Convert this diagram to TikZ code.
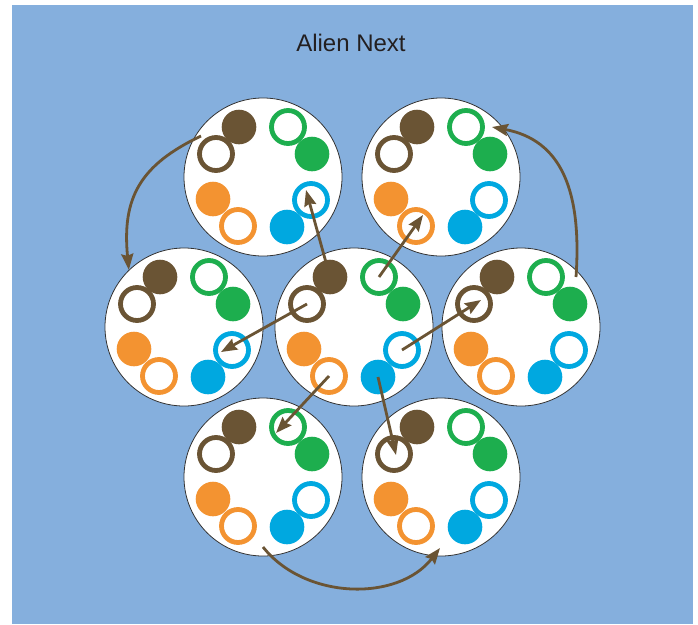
\documentclass[tikz,border=0pt]{standalone}
\usepackage{fontspec}
\setmainfont{Liberation Sans}
\usetikzlibrary{arrows.meta}
\definecolor{bg}{RGB}{133,175,221}
\definecolor{cbrown}{RGB}{106,84,52}
\definecolor{cgreen}{RGB}{29,174,78}
\definecolor{cblue}{RGB}{0,168,224}
\definecolor{corange}{RGB}{243,147,49}
\definecolor{ctext}{RGB}{35,31,32}
\newcommand\plate[3]{%
  \node[plate] (#1) at (#2,#3) {};
  \node[dot=cbrown]  (#1-bf) at ([shift={(-24,-50)}]#1.center) {};
  \node[ring=cbrown] (#1-br) at ([shift={(-47,-23)}]#1.center) {};
  \node[ring=cgreen] (#1-gr) at ([shift={(25,-50)}]#1.center) {};
  \node[dot=cgreen]  (#1-gf) at ([shift={(49,-23)}]#1.center) {};
  \node[ring=cblue]  (#1-ur) at ([shift={(48,23)}]#1.center) {};
  \node[dot=cblue]   (#1-uf) at ([shift={(24,50)}]#1.center) {};
  \node[dot=corange] (#1-of) at ([shift={(-50,22)}]#1.center) {};
  \node[ring=corange](#1-or) at ([shift={(-25,49)}]#1.center) {};
}
\begin{document}
\begin{tikzpicture}[x=1pt,y=-1pt,
  plate/.style={circle,draw=black!80,line width=0.8pt,fill=white,minimum size=158pt,inner sep=0pt},
  dot/.style={circle,fill=#1,minimum size=34.6pt,inner sep=0pt},
  ring/.style={circle,draw=#1,line width=4.8pt,minimum size=33pt,inner sep=0pt},
  conn/.style={draw=cbrown,line width=2.8pt,-{Stealth[length=16pt,width=12pt,inset=2pt]}}]
\useasboundingbox (0,0) rectangle (698,624);
\fill[bg] (12,5) rectangle (693,624);
\node[anchor=base,text=ctext,font=\fontsize{24}{28}\selectfont] (title) at (351,51.7) {Alien Next};
\plate{c}{354}{327}
\plate{l}{184}{327}
\plate{r}{521}{327}
\plate{tl}{263}{177}
\plate{tr}{441}{177}
\plate{bl}{263}{477}
\plate{br}{441}{477}
% curved connectors
\draw[conn] ([shift={(-15,-18)}]tl-br.center) .. controls +(-61,29) and +(-7,-72) .. (l.134);
\draw[conn] ([shift={(55,-50)}]r.center) .. controls +(6,-87) and +(69,13) .. ([shift={(26,0)}]tr-gr.center);
\draw[conn] ([shift={(0,70)}]bl.center) .. controls +(42,53) and +(-42,54) .. ([shift={(-1,71)}]br.center);
% straight connectors
\draw[conn] (c-bf.center) -- ([shift={(-5,-10)}]tl-ur.center);
\draw[conn] (c-gr.center) -- ([shift={(7,-11)}]tr-or.center);
\draw[conn] (c-br.center) -- ([shift={(-11,2)}]l-ur.center);
\draw[conn] (c-ur.center) -- ([shift={(7,-4)}]r-br.center);
\draw[conn] (c-or.center) -- ([shift={(-12,6)}]bl-gr.center);
\draw[conn] (c-uf.center) -- ([shift={(2,1)}]br-br.center);
\end{tikzpicture}
\end{document}
